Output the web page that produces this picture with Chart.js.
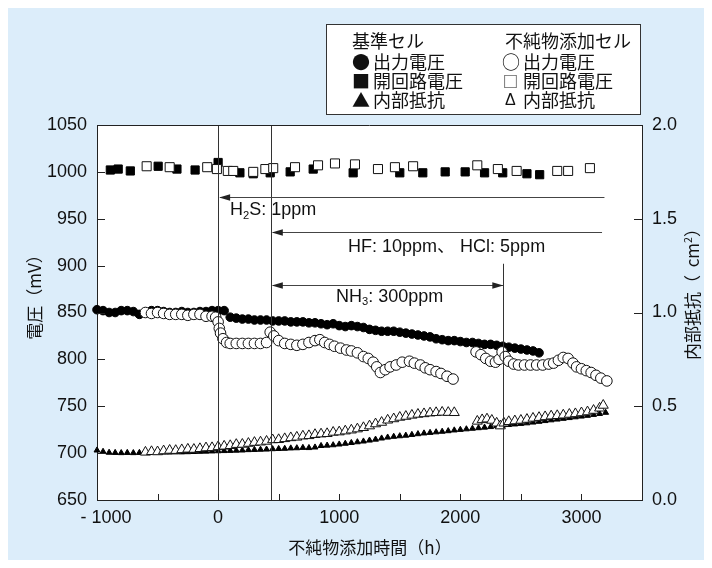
<!DOCTYPE html>
<html>
<head>
<meta charset="utf-8">
<script src="https://cdn.jsdelivr.net/npm/chart.js@4.4.0/dist/chart.umd.min.js"></script>
<style>
  html, body { margin: 0; padding: 0; background: #fff; }
</style>
</head>
<body>
<canvas id="fcChart" width="712" height="568"></canvas>
<script>
// 基準セル: 出力電圧 (mV)
const refVoltHours = [-1000,-950,-900,-850,-800,-750,-700,-650,-600,-550,-500,-450,-400,-350,-300,-250,-200,-150,-100,-50,0,50,100,150,200,250,300,350,400,450,500,550,600,650,700,750,800,850,900,950,1000,1050,1100,1150,1200,1250,1300,1350,1400,1450,1500,1550,1600,1650,1700,1750,1800,1850,1900,1950,2000,2050,2100,2150,2200,2250,2300,2350,2400,2450,2500,2550,2600,2650];
const refVoltValues = [853,852,850,850,852,852,851,848,850,852,852,851,850,850,851,850,850,851,851,852,852,852,845,844,843,843,842,842,842,841,841,841,840,840,840,839,839,838,837,838,836,835,836,835,834,832,831,830,830,830,829,828,827,826,825,824,822,821,820,820,819,818,818,817,816,816,815,814,813,812,811,810,809,807];

// 不純物添加セル: 出力電圧 (mV)
const impVoltHours = [-600,-550,-500,-450,-400,-350,-300,-250,-200,-150,-100,-50,-20,0,10,20,40,70,100,150,200,250,300,350,400,430,460,500,550,600,650,700,750,800,840,880,920,960,1010,1060,1100,1150,1200,1240,1280,1310,1340,1380,1420,1470,1520,1580,1620,1670,1710,1750,1800,1840,1890,1940,
  2130,2170,2210,2250,2290,2320,2345,2370,2400,2440,2480,2530,2580,2630,2680,2730,2770,2810,2850,2890,2930,2960,3000,3040,3080,3120,3160,3210];
const impVoltValues = [850,849,850,849,848,848,848,847,848,848,846,846,845,840,833,828,822,818,817,817,817,817,817,817,818,829,825,820,817,816,815,816,818,820,821,818,816,814,812,810,809,807,803,801,797,792,786,789,792,794,797,798,796,794,791,789,787,785,782,779,
  808,805,801,798,797,800,808,803,798,795,794,794,794,794,794,795,796,799,802,801,796,792,790,788,786,783,780,777];

// 開回路電圧 (mV)
const refOcvHours = [-890,-825,-725,-495,-340,-190,0,180,290,430,595,785,1115,1500,1690,1875,2040,2200,2350,2550,2655];
const refOcvValues = [1002,1003,1001,1006,1003,1002,1010,999,998,999,1000,1003,999,999,999,1000,1000,999,999,998,997];
const impOcvHours = [-590,-400,-90,-10,80,125,290,390,455,635,825,965,1130,1320,1460,1610,2140,2310,2465,2800,2890,3070];
const impOcvValues = [1006,1005,1005,1003,1001,1001,1000,1003,1004,1005,1007,1009,1008,1003,1005,1006,1007,1003,1001,1001,1001,1004];

// 内部抵抗 (right axis)
const refResHours = [-1000,-950,-900,-850,-800,-750,-700,-650,-600,-550,-500,-450,-400,-350,-300,-250,-200,-150,-100,-50,0,50,100,150,200,250,300,350,400,450,500,550,600,650,700,750,800,850,900,950,1000,1050,1100,1150,1200,1250,1300,1350,1400,1450,1500,1550,1600,1650,1700,1750,1800,1850,1900,1950,2000,2050,2100,2150,2200,2250,2300,2350,2400,2450,2500,2550,2600,2650,2700,2750,2800,2850,2900,2950,3000,3050,3100,3150,3200];
const refResValues = [0.265,0.258,0.253,0.252,0.251,0.252,0.251,0.252,0.252,0.253,
  0.253,0.254,0.254,0.255,0.255,0.256,0.257,0.258,0.259,0.26,
  0.261,0.262,0.263,0.264,0.265,0.267,0.268,0.269,0.27,0.272,
  0.273,0.274,0.276,0.277,0.279,0.278,0.281,0.289,0.291,0.293,
  0.297,0.301,0.305,0.309,0.313,0.318,0.323,0.329,0.334,0.338,
  0.341,0.344,0.348,0.352,0.356,0.359,0.362,0.365,0.368,0.372,
  0.375,0.378,0.381,0.384,0.387,0.39,0.395,0.398,0.401,0.404,
  0.407,0.41,0.414,0.418,0.422,0.426,0.43,0.434,0.438,0.442,
  0.446,0.45,0.455,0.46,0.466];
const impResHours = [-600,-550,-500,-450,-400,-350,-300,-250,-200,-150,-100,-50,0,50,100,150,200,250,300,350,400,450,500,550,600,650,700,750,800,850,900,950,1000,1050,1100,1150,1200,1250,1300,1350,1400,1450,1500,1550,1600,1650,1700,1750,1800,1850,1900,1950,
  2140,2180,2220,2260,2300,2330,2360,2400,2450,2500,2550,2600,2650,2700,2750,2800,2850,2900,2950,3000,3050,3100,3150,3180];
const impResValues = [0.255,0.258,0.257,0.262,0.265,0.264,0.268,0.271,0.27,0.274,
  0.278,0.279,0.284,0.287,0.29,0.296,0.297,0.302,0.307,0.309,
  0.313,0.321,0.322,0.327,0.332,0.335,0.341,0.343,0.349,0.352,
  0.354,0.361,0.363,0.368,0.373,0.379,0.386,0.395,0.406,0.414,
  0.426,0.433,0.441,0.446,0.452,0.457,0.46,0.464,0.466,0.468,
  0.467,0.466,
  0.42,0.428,0.432,0.425,0.41,0.395,0.41,0.418,0.422,0.425,0.43,0.436,0.44,0.444,0.448,0.45,0.453,0.457,0.46,0.465,0.47,0.478,0.49,0.505];

// impurity events (hours) and annotation rows (mV)
const eventHours = [0, 435, 2355];
const eventTops = [1050, 1050, 902];
const arrowRows = [
  { from: 0, to: 3190, at: 973, heads: 'start' },
  { from: 435, to: 3170, at: 936, heads: 'start' },
  { from: 435, to: 2355, at: 879, heads: 'both' }
];
const arrowLabels = [
  { h: 99, mv: 959, parts: [{ t: 'H' }, { t: '2', sub: true }, { t: 'S: 1ppm' }] },
  { h: 1073, mv: 920, parts: [{ t: 'HF: 10ppm、 HCl: 5ppm' }] },
  { h: 974, mv: 867, parts: [{ t: 'NH' }, { t: '3', sub: true }, { t: ': 300ppm' }] }
];

const LAT = "'Liberation Sans', Arial, 'Noto Sans CJK JP', sans-serif";
const CJK = "'Noto Sans CJK JP', 'Liberation Sans', sans-serif";
const INK = '#111';

function pts(hours, vals) {
  return hours.map((h, i) => ({ x: h, y: vals[i] }));
}

function partsWidth(ctx, parts, size, family) {
  let w = 0;
  parts.forEach(p => {
    ctx.font = ((p.sub || p.sup) ? size * 0.62 : size) + 'px ' + family;
    w += ctx.measureText(p.t).width;
  });
  return w;
}

function drawParts(ctx, x, y, parts, size, family) {
  let cx = x;
  parts.forEach(p => {
    const s = (p.sub || p.sup) ? size * 0.62 : size;
    ctx.font = s + 'px ' + family;
    const dy = p.sub ? size * 0.3 : (p.sup ? -size * 0.32 : 0);
    ctx.fillText(p.t, cx, y + dy);
    cx += ctx.measureText(p.t).width;
  });
}

const backdrop = {
  id: 'backdrop',
  beforeDraw(chart) {
    const { ctx, chartArea: a } = chart;
    ctx.save();
    ctx.fillStyle = '#fff';
    ctx.fillRect(0, 0, chart.width, chart.height);
    ctx.fillStyle = '#dcedfa';
    ctx.fillRect(8, 8, chart.width - 16, chart.height - 16);
    ctx.fillStyle = '#fff';
    ctx.fillRect(a.left, a.top, a.right - a.left, a.bottom - a.top);
    ctx.restore();
  }
};

function arrowHead(ctx, x, y, dir) {
  ctx.beginPath();
  ctx.moveTo(x, y);
  ctx.lineTo(x + dir * 11, y - 3.2);
  ctx.lineTo(x + dir * 11, y + 3.2);
  ctx.closePath();
  ctx.fill();
}

const extras = {
  id: 'extras',
  afterDatasetsDraw(chart) {
    const { ctx, chartArea: a, scales: { x, y } } = chart;
    ctx.save();
    // event lines
    ctx.strokeStyle = '#333';
    ctx.lineWidth = 1;
    eventHours.forEach((h, i) => {
      const px = Math.round(x.getPixelForValue(h)) + 0.5;
      ctx.beginPath();
      ctx.moveTo(px, y.getPixelForValue(eventTops[i]));
      ctx.lineTo(px, a.bottom);
      ctx.stroke();
    });
    // arrows
    ctx.strokeStyle = '#444';
    ctx.fillStyle = '#222';
    ctx.lineWidth = 1.2;
    arrowRows.forEach(r => {
      const x1 = x.getPixelForValue(r.from), x2 = x.getPixelForValue(r.to);
      const py = Math.round(y.getPixelForValue(r.at)) + 0.5;
      ctx.beginPath();
      ctx.moveTo(x1 + 2, py);
      ctx.lineTo(x2, py);
      ctx.stroke();
      arrowHead(ctx, x1 + 1, py, 1);
      if (r.heads === 'both') arrowHead(ctx, x2, py, -1);
    });
    // labels
    ctx.fillStyle = INK;
    ctx.textAlign = 'left';
    ctx.textBaseline = 'middle';
    arrowLabels.forEach(l => {
      drawParts(ctx, x.getPixelForValue(l.h), y.getPixelForValue(l.mv), l.parts, 18, LAT);
    });
    ctx.restore();
  },
  afterDraw(chart) {
    const { ctx, chartArea: a, scales: { x, y, y2 } } = chart;
    ctx.save();
    // inward tick marks and top frame
    ctx.strokeStyle = '#222';
    ctx.lineWidth = 1;
    ctx.beginPath();
    x.ticks.forEach(t => {
      const px = Math.round(x.getPixelForValue(t.value)) + 0.5;
      ctx.moveTo(px, a.bottom);
      ctx.lineTo(px, a.bottom - 6);
    });
    y.ticks.forEach(t => {
      const py = Math.round(y.getPixelForValue(t.value)) + 0.5;
      ctx.moveTo(a.left, py);
      ctx.lineTo(a.left + 8, py);
    });
    y2.ticks.forEach(t => {
      const py = Math.round(y2.getPixelForValue(t.value)) + 0.5;
      ctx.moveTo(a.right, py);
      ctx.lineTo(a.right - 8, py);
    });
    ctx.moveTo(a.left, a.top + 0.5);
    ctx.lineTo(a.right, a.top + 0.5);
    ctx.stroke();

    // axis titles
    ctx.fillStyle = INK;
    ctx.textBaseline = 'middle';
    ctx.textAlign = 'center';
    ctx.font = '17px ' + CJK;
    ctx.fillText('不純物添加時間（h）', 370, 548);

    ctx.textAlign = 'left';
    const leftParts = [{ t: '電圧（mV）' }];
    let w = partsWidth(ctx, leftParts, 17, CJK);
    ctx.save();
    ctx.translate(35, 293);
    ctx.rotate(-Math.PI / 2);
    drawParts(ctx, -w / 2, 0, leftParts, 17, CJK);
    ctx.restore();

    const rightParts = [{ t: '内部抵抗（  cm' }, { t: '2', sup: true }, { t: '）' }];
    w = partsWidth(ctx, rightParts, 17, CJK);
    ctx.save();
    ctx.translate(693, 290);
    ctx.rotate(-Math.PI / 2);
    drawParts(ctx, -w / 2, 0, rightParts, 17, CJK);
    ctx.restore();

    // legend box
    ctx.fillStyle = '#fff';
    ctx.fillRect(326.5, 24.5, 314, 90);
    ctx.strokeStyle = '#333';
    ctx.strokeRect(326.5, 24.5, 314, 90);
    ctx.fillStyle = INK;
    ctx.font = '18px ' + CJK;
    const rows = [41, 62, 81, 100];
    ctx.fillText('基準セル', 352, rows[0]);
    ctx.fillText('●', 352, rows[1]);
    ctx.fillText('出力電圧', 373, rows[1]);
    ctx.fillText('■', 352, rows[2]);
    ctx.fillText('開回路電圧', 373, rows[2]);
    ctx.fillText('▲', 352, rows[3]);
    ctx.fillText('内部抵抗', 373, rows[3]);
    ctx.fillText('不純物添加セル', 505, rows[0]);
    ctx.fillText('○', 502, rows[1]);
    ctx.fillText('出力電圧', 523, rows[1]);
    ctx.fillText('開回路電圧', 523, rows[2]);
    ctx.fillText('内部抵抗', 523, rows[3]);
    ctx.font = '15px ' + CJK;
    ctx.fillText('□', 503, rows[2]);
    ctx.font = '16px ' + LAT;
    ctx.fillText('Δ', 505, rows[3] + 1);
    ctx.restore();
  }
};

const tickFont = { family: LAT, size: 18 };

new Chart(document.getElementById('fcChart'), {
  type: 'scatter',
  data: {
    datasets: [
      { label: '不純物添加セル 出力電圧', data: pts(impVoltHours, impVoltValues), yAxisID: 'y', order: 1,
        pointStyle: 'circle', pointRadius: 5.3, pointBackgroundColor: '#fff', pointBorderColor: '#111', pointBorderWidth: 1, clip: false },
      { label: '不純物添加セル 開回路電圧', data: pts(impOcvHours, impOcvValues), yAxisID: 'y', order: 2,
        pointStyle: 'rect', pointRadius: 6.4, pointBackgroundColor: '#fff', pointBorderColor: '#111', pointBorderWidth: 1, clip: false },
      { label: '不純物添加セル 内部抵抗', data: pts(impResHours, impResValues), yAxisID: 'y2', order: 3,
        pointStyle: 'triangle', pointRadius: 5.8, pointBackgroundColor: '#fff', pointBorderColor: '#111', pointBorderWidth: 1, clip: false },
      { label: '基準セル 出力電圧', data: pts(refVoltHours, refVoltValues), yAxisID: 'y', order: 4,
        pointStyle: 'circle', pointRadius: 4.3, pointBackgroundColor: '#000', pointBorderColor: '#000', pointBorderWidth: 1, clip: false },
      { label: '基準セル 開回路電圧', data: pts(refOcvHours, refOcvValues), yAxisID: 'y', order: 5,
        pointStyle: 'rect', pointRadius: 5.8, pointBackgroundColor: '#000', pointBorderColor: '#000', pointBorderWidth: 1, clip: false },
      { label: '基準セル 内部抵抗', data: pts(refResHours, refResValues), yAxisID: 'y2', order: 6,
        pointStyle: 'triangle', pointRadius: 3.4, pointBackgroundColor: '#000', pointBorderColor: '#000', pointBorderWidth: 1, clip: false }
    ]
  },
  options: {
    responsive: false,
    animation: false,
    devicePixelRatio: 1,
    layout: { padding: { top: 125, left: 0, right: 0, bottom: 0 } },
    plugins: { legend: { display: false }, tooltip: { enabled: false } },
    scales: {
      x: {
        type: 'linear', min: -1000, max: 3500,
        grid: { display: false, drawTicks: false },
        border: { display: true, color: '#222', width: 1 },
        ticks: {
          stepSize: 500, padding: 7, autoSkip: false, maxRotation: 0, color: INK, font: tickFont,
          callback: v => (v % 1000 !== 0 || v > 3000) ? '' : (v < 0 ? '\u2002\u2002- ' + Math.abs(v) : String(v))
        },
        afterFit: s => { s.height = 68; }
      },
      y: {
        position: 'left', min: 650, max: 1050,
        grid: { display: false, drawTicks: false },
        border: { display: true, color: '#222', width: 1 },
        ticks: { stepSize: 50, padding: 10, color: INK, font: tickFont, callback: v => String(v) },
        afterFit: s => { s.width = 97; }
      },
      y2: {
        position: 'right', min: 0, max: 2,
        grid: { display: false, drawTicks: false },
        border: { display: true, color: '#222', width: 1 },
        ticks: { stepSize: 0.5, padding: 10, color: INK, font: tickFont, callback: v => v.toFixed(1) },
        afterFit: s => { s.width = 70; }
      }
    }
  },
  plugins: [backdrop, extras]
});
</script>
</body>
</html>
